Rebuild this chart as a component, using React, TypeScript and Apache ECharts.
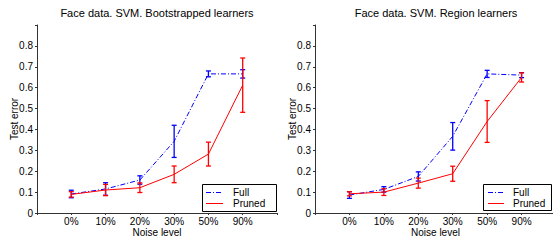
import React, { useEffect, useRef } from "react";
import * as echarts from "echarts";

const noiseLabels = ["0%", "10%", "20%", "30%", "50%", "90%"];
const titles = ["Face data. SVM. Bootstrapped learners", "Face data. SVM. Region learners"];
const legendNames = ["Full", "Pruned"];

// Bootstrapped learners
const bootFull = [0.091, 0.115, 0.158, 0.343, 0.666, 0.666];
const bootFullErr = [0.018, 0.03, 0.02, 0.077, 0.014, 0.02];
const bootPruned = [0.089, 0.11, 0.121, 0.185, 0.282, 0.612];
const bootPrunedErr = [0.013, 0.027, 0.023, 0.04, 0.057, 0.13];

// Region learners
const regFull = [0.086, 0.113, 0.175, 0.367, 0.666, 0.66];
const regFullErr = [0.016, 0.013, 0.022, 0.066, 0.017, 0.012];
const regPruned = [0.092, 0.1, 0.143, 0.188, 0.438, 0.649];
const regPrunedErr = [0.01, 0.016, 0.024, 0.036, 0.1, 0.022];

const BLUE = "#0000ff";
const RED = "#ff0000";
const FONT = "Liberation Sans, Arial, Helvetica, sans-serif";
const DASHDOT = [5, 2, 1, 2];

function lineData(vals: number[]) {
  return vals.map((v, i) => [i + 1, v]);
}
function errData(vals: number[], errs: number[]) {
  return vals.map((v, i) => [i + 1, v - errs[i], v + errs[i]]);
}

function errorSeries(name: string, idx: number, vals: number[], errs: number[], color: string) {
  return {
    type: "custom",
    name: name + " err",
    xAxisIndex: idx,
    yAxisIndex: idx,
    silent: true,
    z: 3,
    data: errData(vals, errs),
    renderItem: (params: any, api: any) => {
      const x = api.value(0);
      const lo = api.coord([x, api.value(1)]);
      const hi = api.coord([x, api.value(2)]);
      const w = 2.5;
      const style = { stroke: color, lineWidth: 1.3 };
      return {
        type: "group",
        children: [
          { type: "line", shape: { x1: lo[0], y1: lo[1], x2: hi[0], y2: hi[1] }, style },
          { type: "line", shape: { x1: lo[0] - w, y1: lo[1], x2: lo[0] + w, y2: lo[1] }, style },
          { type: "line", shape: { x1: hi[0] - w, y1: hi[1], x2: hi[0] + w, y2: hi[1] }, style },
        ],
      };
    },
  };
}

function legendGraphic(x: number, y: number, w: number, h: number, iconX: number, iconW: number, textX: number) {
  const rows = [
    { name: legendNames[0], color: BLUE, dash: DASHDOT, cy: y + 8.5 },
    { name: legendNames[1], color: RED, dash: null as any, cy: y + 19.5 },
  ];
  const children: any[] = [
    {
      type: "rect",
      shape: { x: x + 0.5, y: y + 0.5, width: w, height: h },
      style: { fill: "#fff", stroke: "#000", lineWidth: 1 },
    },
  ];
  rows.forEach((r) => {
    children.push({
      type: "line",
      shape: { x1: iconX, y1: r.cy, x2: iconX + iconW, y2: r.cy },
      style: { stroke: r.color, lineWidth: 1, lineDash: r.dash },
    });
    children.push({
      type: "text",
      x: textX,
      y: r.cy,
      style: { text: r.name, fill: "#000", font: `10px ${FONT}`, textVerticalAlign: "middle" },
    });
  });
  return { type: "group", z: 100, children };
}

export default function App() {
  const ref = useRef<HTMLDivElement>(null);
  useEffect(() => {
    if (!ref.current) return;
    const chart = echarts.init(ref.current, null, { renderer: "svg" });
    const grids = [
      { left: 37, top: 25, width: 240, height: 188, outerBoundsMode: "none", containLabel: false },
      { left: 315, top: 25, width: 241, height: 188, outerBoundsMode: "none", containLabel: false },
    ];
    const axisCommon = {
      axisLine: { lineStyle: { color: "#333", width: 1 } },
      axisTick: { length: 2, lineStyle: { color: "#333" } },
      splitLine: { show: false },
    };
    const xAxes = grids.map((_, i) => ({
      type: "value",
      gridIndex: i,
      min: 0,
      max: 7,
      interval: 1,
      ...axisCommon,
      axisLabel: {
        color: "#000",
        fontFamily: FONT,
        fontSize: 10,
        margin: 3,
        formatter: (v: number) => (v >= 1 && v <= 6 ? noiseLabels[v - 1] : ""),
      },
      name: "Noise level",
      nameLocation: "middle",
      nameGap: 14,
      nameMoveOverlap: false,
      nameTextStyle: { color: "#000", fontFamily: FONT, fontSize: 10 },
    }));
    const yAxes = grids.map((_, i) => ({
      type: "value",
      gridIndex: i,
      min: 0,
      max: 0.9,
      interval: 0.1,
      ...axisCommon,
      axisLabel: {
        color: "#000",
        fontFamily: FONT,
        fontSize: 10,
        margin: 4,
        formatter: (v: number) => (v > 0.85 ? "" : v === 0 ? "0" : v.toFixed(1)),
      },
      name: "Test error",
      nameLocation: "middle",
      nameGap: 18,
      nameMoveOverlap: false,
      nameTextStyle: { color: "#000", fontFamily: FONT, fontSize: 10 },
    }));
    const sets = [
      { full: bootFull, fullErr: bootFullErr, pruned: bootPruned, prunedErr: bootPrunedErr },
      { full: regFull, fullErr: regFullErr, pruned: regPruned, prunedErr: regPrunedErr },
    ];
    const series: any[] = [];
    sets.forEach((s, i) => {
      series.push({
        type: "line",
        name: "Full",
        xAxisIndex: i,
        yAxisIndex: i,
        symbol: "none",
        data: lineData(s.full),
        lineStyle: { color: BLUE, width: 1, type: DASHDOT },
        itemStyle: { color: BLUE },
        z: 2,
      });
      series.push(errorSeries("Full", i, s.full, s.fullErr, BLUE));
      series.push({
        type: "line",
        name: "Pruned",
        xAxisIndex: i,
        yAxisIndex: i,
        symbol: "none",
        data: lineData(s.pruned),
        lineStyle: { color: RED, width: 1 },
        itemStyle: { color: RED },
        z: 4,
      });
      series.push(errorSeries("Pruned", i, s.pruned, s.prunedErr, RED));
    });
    chart.setOption({
      animation: false,
      grid: grids,
      xAxis: xAxes,
      yAxis: yAxes,
      graphic: [
        {
          type: "text",
          x: 157,
          y: 7,
          style: { text: titles[0], fill: "#000", font: `11px ${FONT}`, textAlign: "center" },
        },
        {
          type: "text",
          x: 436,
          y: 7,
          style: { text: titles[1], fill: "#000", font: `11px ${FONT}`, textAlign: "center" },
        },
        legendGraphic(202, 184, 74, 27, 206, 17, 233),
        legendGraphic(483, 184, 68, 26, 488, 16, 513),
      ],
      series,
    });
    return () => chart.dispose();
  }, []);
  return <div ref={ref} style={{ position: "fixed", left: 0, top: 0, width: 553, height: 240, background: "#fff" }} />;
}
